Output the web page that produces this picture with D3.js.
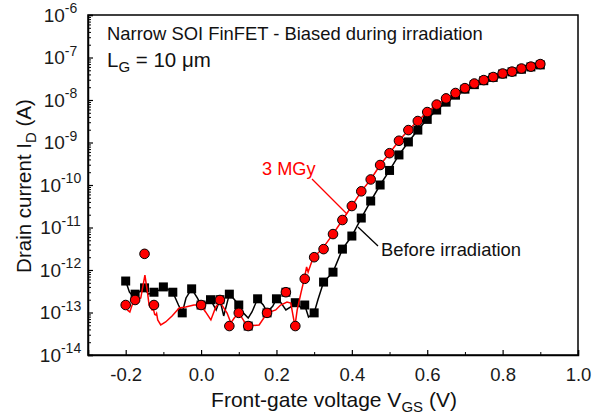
<!DOCTYPE html>
<html><head><meta charset="utf-8">
<script src="https://cdn.jsdelivr.net/npm/d3@7"></script>
<style>body{margin:0;background:#fff}svg{display:block;font-family:"Liberation Sans",Arial,sans-serif}</style>
</head><body><svg id="c" width="592" height="420"></svg>
<script>
// ---- data ----
const markerV = [-0.2,-0.175,-0.15,-0.125,-0.1,-0.075,-0.05,-0.025,0,0.025,0.05,0.075,0.1,0.125,0.15,0.175,0.2,0.225,0.25,0.275,0.3,0.325,0.35,0.375,0.4,0.425,0.45,0.475,0.5,0.525,0.55,0.575,0.6,0.625,0.65,0.675,0.7,0.725,0.75,0.775,0.8,0.825,0.85,0.875,0.9];
const beforeMarkers = [5.5e-13,2.7e-13,3.8e-13,3.0e-13,4.0e-13,3.0e-13,9.8e-14,3.6e-13,1.5e-13,2.0e-13,2.0e-13,2.7e-13,1.5e-13,4.8e-14,2.1e-13,9.8e-14,2.1e-13,3.0e-13,1.7e-13,1.5e-13,9.8e-14,5.2e-13,8.9e-13,3.1e-12,6.3e-12,1.67e-11,4.2e-11,1.0e-10,2.2e-10,5.1e-10,1.03e-9,1.96e-9,3.5e-9,5.8e-9,8.9e-9,1.3e-8,1.8e-8,2.3e-8,2.85e-8,3.4e-8,4.1e-8,4.6e-8,5.3e-8,6.0e-8,6.7e-8];
const mgyMarkers = [1.5e-13,1.97e-13,2.4e-12,1.5e-13,null,null,null,null,1.5e-13,null,1.97e-13,4.8e-14,9.8e-14,4.8e-14,null,9.8e-14,null,3.0e-13,4.8e-14,6.2e-13,2.0e-12,3.1e-12,7.0e-12,1.5e-11,3.2e-11,7.1e-11,1.35e-10,2.95e-10,5.6e-10,1.1e-9,1.96e-9,3.2e-9,5.2e-9,7.8e-9,1.09e-8,1.46e-8,1.9e-8,2.44e-8,2.94e-8,3.47e-8,4.2e-8,4.65e-8,5.5e-8,6.1e-8,7.0e-8];

const beforeLineV = [-0.2,-0.19,-0.18,-0.175,-0.165,-0.15,-0.14,-0.125,-0.11,-0.1,-0.085,-0.075,-0.06,-0.05,-0.04,-0.025,-0.01,0,0.012,0.025,0.04,0.05,0.06,0.075,0.085,0.1,0.11,0.125,0.135,0.15,0.165,0.175,0.19,0.2,0.21,0.225,0.24,0.25,0.265,0.275,0.285,0.3,0.31,0.325,0.35,0.375,0.4,0.425,0.45,0.475,0.5,0.525,0.55,0.575,0.6,0.625,0.65,0.675,0.7,0.725,0.75,0.775,0.8,0.825,0.85,0.875,0.9];
const beforeLineI = [5.5e-13,3.0e-13,2.4e-13,2.7e-13,3.0e-13,3.8e-13,2.7e-13,3.0e-13,3.4e-13,4.0e-13,3.4e-13,3.0e-13,1.5e-13,9.8e-14,2.2e-13,3.6e-13,2.2e-13,1.5e-13,1.7e-13,2.0e-13,1.15e-13,2.0e-13,8.3e-14,2.7e-13,2.2e-13,1.5e-13,1.03e-13,7.4e-14,1.03e-13,2.1e-13,1.5e-13,1.03e-13,1.4e-13,2.1e-13,1.8e-13,1.15e-13,1.4e-13,1.7e-13,1.3e-13,1.5e-13,7.8e-14,9.8e-14,2.0e-13,5.2e-13,8.9e-13,3.1e-12,6.3e-12,1.67e-11,4.2e-11,1.0e-10,2.2e-10,5.1e-10,1.03e-9,1.96e-9,3.5e-9,5.8e-9,8.9e-9,1.3e-8,1.8e-8,2.3e-8,2.85e-8,3.4e-8,4.1e-8,4.6e-8,5.3e-8,6.0e-8,6.7e-8];

const mgyLineV = [-0.196,-0.189,-0.183,-0.173,-0.160,-0.149,-0.142,-0.138,-0.130,-0.127,-0.123,-0.120,-0.118,-0.115,-0.107,-0.094,-0.077,-0.058,-0.041,-0.019,-0.001,0.012,0.026,0.039,0.050,0.069,0.079,0.088,0.101,0.109,0.122,0.154,0.175,0.198,0.211,0.228,0.238,0.249,0.255,0.265,0.273,0.280,0.284,0.295,0.305,0.321,0.35,0.375,0.4,0.425,0.45,0.475,0.5,0.525,0.55,0.575,0.6,0.625,0.65,0.675,0.7,0.725,0.75,0.775,0.8,0.825,0.85,0.875,0.9];
const mgyLineI = [1.15e-13,1.03e-13,1.5e-13,1.97e-13,2.19e-13,7.6e-13,2.9e-13,1.5e-13,1.15e-13,1.25e-13,9.0e-14,8.7e-14,9.5e-14,6.7e-14,5.1e-14,6.0e-14,8.3e-14,1.28e-13,1.35e-13,1.5e-13,1.5e-13,1.03e-13,6.7e-14,1.35e-13,1.77e-13,9.7e-14,5.7e-14,7.4e-14,1.03e-13,7.4e-14,4.8e-14,5.1e-14,9.7e-14,1.15e-13,1.5e-13,1.77e-13,1.67e-13,4.8e-14,1.15e-13,2.9e-13,5.8e-13,1.18e-12,9.0e-13,1.72e-12,2.25e-12,3.1e-12,7.0e-12,1.5e-11,3.2e-11,7.1e-11,1.35e-10,2.95e-10,5.6e-10,1.1e-9,1.96e-9,3.2e-9,5.2e-9,7.8e-9,1.09e-8,1.46e-8,1.9e-8,2.44e-8,2.94e-8,3.47e-8,4.2e-8,4.65e-8,5.5e-8,6.1e-8,7.0e-8];

const xTicks = [-0.2,0.0,0.2,0.4,0.6,0.8,1.0];
const xTickLabels = ["-0.2","0.0","0.2","0.4","0.6","0.8","1.0"];
const xMinorTicks = [-0.3,-0.1,0.1,0.3,0.5,0.7,0.9];
const yExponents = [-14,-13,-12,-11,-10,-9,-8,-7,-6];

// ---- layout ----
const svg = d3.select("#c");
const L = 88, R = 578, T = 15, B = 355;
const x = d3.scaleLinear().domain([-0.3, 1.0]).range([L, R]);
const y = d3.scaleLog().domain([1e-14, 1e-6]).range([B, T]);

// frame
svg.append("rect").attr("x", L).attr("y", T).attr("width", R - L).attr("height", B - T)
  .attr("fill", "none").attr("stroke", "#000").attr("stroke-width", 1.5);

// x axis
const xAxis = d3.axisBottom(x).tickValues(xTicks).tickSize(-5).tickPadding(13)
  .tickFormat((d, i) => xTickLabels[i]);
const gx = svg.append("g").attr("transform", `translate(0,${B})`).call(xAxis);
gx.select(".domain").attr("stroke-width", 1.5);
gx.selectAll(".tick line").attr("stroke-width", 1.2);
gx.selectAll("text").attr("font-size", 18.5).attr("font-family", "Liberation Sans, Arial, sans-serif").attr("fill", "#1a1a1a");
const gxm = svg.append("g").attr("transform", `translate(0,${B})`)
  .call(d3.axisBottom(x).tickValues(xMinorTicks).tickSize(-3).tickFormat(""));
gxm.select(".domain").remove();

// y axis
const majorY = yExponents.map(e => Math.pow(10, e));
const gy = svg.append("g").attr("transform", `translate(${L},0)`)
  .call(d3.axisLeft(y).tickValues(majorY).tickSize(-5).tickFormat(""));
gy.select(".domain").attr("stroke-width", 1.5);
gy.selectAll(".tick line").attr("stroke-width", 1.2);
const minorY = [];
yExponents.slice(0, -1).forEach(e => { for (let k = 2; k <= 9; k++) minorY.push(k * Math.pow(10, e)); });
const gym = svg.append("g").attr("transform", `translate(${L},0)`)
  .call(d3.axisLeft(y).tickValues(minorY).tickSize(-3).tickFormat(""));
gym.select(".domain").remove();

// y tick labels (10^n), centred like the original
yExponents.forEach(e => {
  const t = svg.append("text").attr("x", 60.5).attr("y", y(Math.pow(10, e)) + 6.5)
    .attr("text-anchor", "middle").attr("font-size", 19).attr("fill", "#1a1a1a");
  t.append("tspan").text("10");
  t.append("tspan").attr("dy", -8.5).attr("font-size", 14).text("-" + Math.abs(e));
});

// axis titles
const xt = svg.append("text").attr("x", 334).attr("y", 407).attr("text-anchor", "middle")
  .attr("font-size", 21).attr("fill", "#111");
xt.append("tspan").text("Front-gate voltage V");
xt.append("tspan").attr("dy", 5).attr("font-size", 15).text("GS");
xt.append("tspan").attr("dy", -5).text(" (V)");

const yt = svg.append("text").attr("transform", "translate(31,186) rotate(-90)")
  .attr("text-anchor", "middle").attr("font-size", 20.5).attr("fill", "#111");
yt.append("tspan").text("Drain current I");
yt.append("tspan").attr("dy", 5).attr("font-size", 15).text("D");
yt.append("tspan").attr("dy", -5).text(" (A)");

// annotations
svg.append("text").attr("x", 107).attr("y", 39.5).attr("font-size", 18.4).attr("fill", "#111")
  .text("Narrow SOI FinFET - Biased during irradiation");
const lg = svg.append("text").attr("x", 107).attr("y", 66.5).attr("font-size", 20.5).attr("fill", "#111");
lg.append("tspan").text("L");
lg.append("tspan").attr("dy", 5).attr("font-size", 15).text("G");
lg.append("tspan").attr("dy", -5).text(" = 10 μm");

// data lines
const line = d3.line().x(d => x(d[0])).y(d => y(d[1]));
const bLine = beforeLineV.map((v, i) => [v, beforeLineI[i]]);
const rLine = mgyLineV.map((v, i) => [v, mgyLineI[i]]);
svg.append("path").datum(bLine).attr("d", line).attr("fill", "none").attr("stroke", "#000").attr("stroke-width", 1.5);
const bPts = markerV.map((v, i) => [v, beforeMarkers[i]]).filter(d => d[1] != null);
svg.append("g").selectAll("rect").data(bPts).join("rect")
  .attr("x", d => x(d[0]) - 4.5).attr("y", d => y(d[1]) - 4.5).attr("width", 9).attr("height", 9).attr("fill", "#000");
svg.append("path").datum(rLine).attr("d", line).attr("fill", "none").attr("stroke", "#f00").attr("stroke-width", 1.5);
const rPts = markerV.map((v, i) => [v, mgyMarkers[i]]).filter(d => d[1] != null);
svg.append("g").selectAll("circle").data(rPts).join("circle")
  .attr("cx", d => x(d[0])).attr("cy", d => y(d[1])).attr("r", 4.8)
  .attr("fill", "#f00").attr("stroke", "#000").attr("stroke-width", 1);

// callouts
svg.append("text").attr("x", 262).attr("y", 175).attr("font-size", 18.2).attr("fill", "#f00").text("3 MGy");
svg.append("line").attr("x1", 312).attr("y1", 179).attr("x2", 347).attr("y2", 214).attr("stroke", "#f00").attr("stroke-width", 1.3);
svg.append("text").attr("x", 381).attr("y", 256).attr("font-size", 18.4).attr("fill", "#111").text("Before irradiation");
svg.append("line").attr("x1", 358).attr("y1", 227).attr("x2", 378).attr("y2", 246).attr("stroke", "#000").attr("stroke-width", 1.3);
</script></body></html>
